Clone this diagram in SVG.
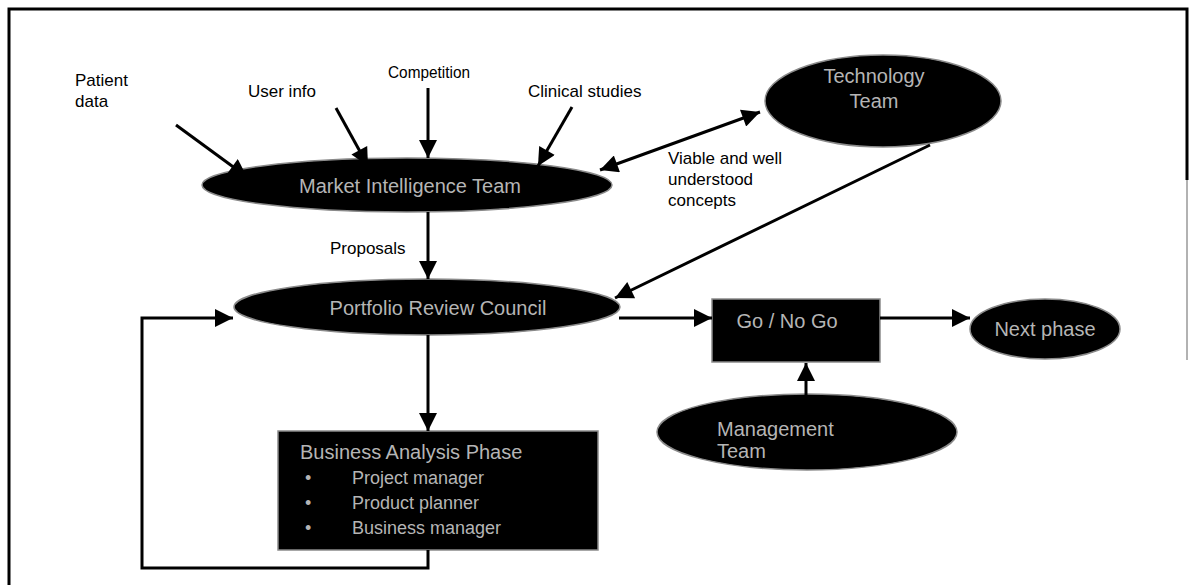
<svg xmlns="http://www.w3.org/2000/svg" width="1195" height="585" viewBox="0 0 1195 585">
<style>
.lbl{font-family:"Liberation Sans",Arial,sans-serif;font-size:17px;fill:#000}
.nt{font-family:"Liberation Sans",Arial,sans-serif;font-size:20px;fill:#b5b5b5}
.bt{font-family:"Liberation Sans",Arial,sans-serif;font-size:18px;fill:#b5b5b5}
.node{fill:#000;stroke:#8a8a8a;stroke-width:1.5}
.c{fill:none;stroke:#000;stroke-width:3}
</style>
<defs>
<marker id="ah" viewBox="0 0 10 10" refX="10" refY="5" markerWidth="7" markerHeight="6" markerUnits="strokeWidth" orient="auto-start-reverse">
<path d="M0,0 L10,5 L0,10 z" fill="#000"/>
</marker>
</defs>
<rect width="1195" height="585" fill="#fff"/>
<path d="M9,585 V9 H1187 V180" fill="none" stroke="#000" stroke-width="3"/>
<line x1="1187" y1="180" x2="1187" y2="360" stroke="#999" stroke-width="1.5"/>
<g id="labels">
<text class="lbl" x="75" y="86">Patient</text>
<text class="lbl" x="75" y="107">data</text>
<text class="lbl" x="248" y="97">User info</text>
<text class="lbl" x="388" y="78" textLength="82" lengthAdjust="spacingAndGlyphs">Competition</text>
<text class="lbl" x="528" y="97">Clinical studies</text>
<text class="lbl" x="668" y="164">Viable and well</text>
<text class="lbl" x="668" y="185">understood</text>
<text class="lbl" x="668" y="206">concepts</text>
<text class="lbl" x="330" y="254">Proposals</text>
</g>
<g id="market">
<ellipse class="node" cx="407" cy="185" rx="205" ry="27"/>
<text class="nt" x="410" y="193" text-anchor="middle">Market Intelligence Team</text>
</g>
<g id="portfolio">
<ellipse class="node" cx="427" cy="307" rx="193" ry="28"/>
<text class="nt" x="438" y="315" text-anchor="middle">Portfolio Review Council</text>
</g>
<g id="business">
<rect class="node" x="278" y="431" width="320" height="119"/>
<text class="nt" x="300" y="459">Business Analysis Phase</text>
<text class="bt" x="305" y="484">•</text>
<text class="bt" x="352" y="484">Project manager</text>
<text class="bt" x="305" y="509">•</text>
<text class="bt" x="352" y="509">Product planner</text>
<text class="bt" x="305" y="534">•</text>
<text class="bt" x="352" y="534">Business manager</text>
</g>
<g id="technology">
<ellipse class="node" cx="883" cy="101" rx="118" ry="46"/>
<text class="nt" x="874" y="83" text-anchor="middle">Technology</text>
<text class="nt" x="874" y="108" text-anchor="middle">Team</text>
</g>
<g id="gonogo">
<rect class="node" x="712" y="299" width="168" height="63"/>
<text class="nt" x="787" y="328" text-anchor="middle">Go / No Go</text>
</g>
<g id="nextphase">
<ellipse class="node" cx="1045" cy="329" rx="75" ry="30"/>
<text class="nt" x="1045" y="336" text-anchor="middle">Next phase</text>
</g>
<g id="management">
<ellipse class="node" cx="807" cy="432" rx="150" ry="38"/>
<text class="nt" x="717" y="436">Management</text>
<text class="nt" x="717" y="458">Team</text>
</g>
<g id="connectors">
<line class="c" x1="176" y1="125" x2="247" y2="177" marker-end="url(#ah)"/>
<line class="c" x1="336" y1="108" x2="368" y2="166" marker-end="url(#ah)"/>
<line class="c" x1="428" y1="88" x2="428" y2="158" marker-end="url(#ah)"/>
<line class="c" x1="572" y1="107" x2="538" y2="166" marker-end="url(#ah)"/>
<line class="c" x1="600" y1="170" x2="760" y2="112" marker-start="url(#ah)" marker-end="url(#ah)"/>
<line class="c" x1="930" y1="145" x2="615" y2="298" marker-end="url(#ah)"/>
<line class="c" x1="428" y1="212" x2="428" y2="279" marker-end="url(#ah)"/>
<line class="c" x1="428" y1="335" x2="428" y2="431" marker-end="url(#ah)"/>
<path class="c" d="M428,550 V568 H142 V318 H233" marker-end="url(#ah)"/>
<line class="c" x1="619" y1="318" x2="712" y2="318" marker-end="url(#ah)"/>
<line class="c" x1="880" y1="318" x2="970" y2="318" marker-end="url(#ah)"/>
<line class="c" x1="806" y1="395" x2="806" y2="363" marker-end="url(#ah)"/>
</g>
</svg>
